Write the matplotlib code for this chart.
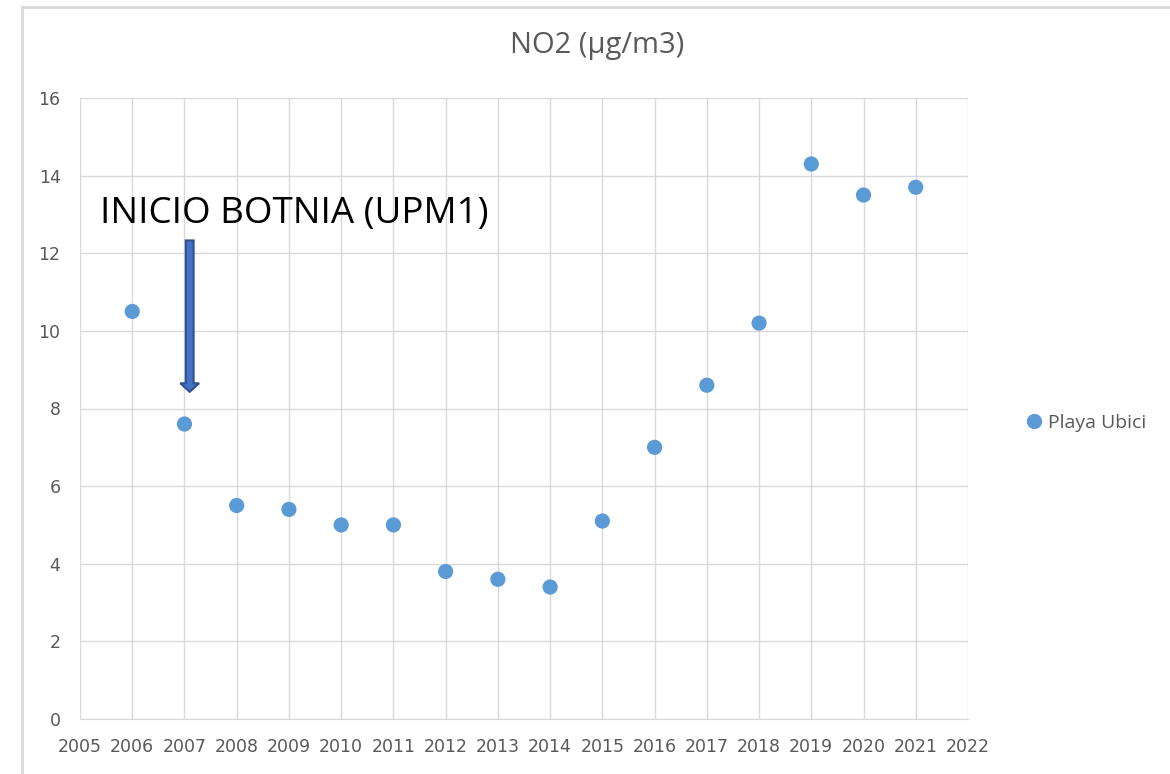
import matplotlib
matplotlib.use("Agg")
import matplotlib.pyplot as plt
from matplotlib.lines import Line2D
from matplotlib.patches import FancyArrow

years = [2006, 2007, 2008, 2009, 2010, 2011, 2012, 2013, 2014, 2015, 2016, 2017, 2018, 2019, 2020, 2021]
no2 = [10.5, 7.6, 5.5, 5.4, 5.0, 5.0, 3.8, 3.6, 3.4, 5.1, 7.0, 8.6, 10.2, 14.3, 13.5, 13.7]
series_name = "Playa Ubici"
title = "NO2 (µg/m3)"
annotation = "INICIO BOTNIA (UPM1)"
x_ticks = list(range(2005, 2023))
y_ticks = list(range(0, 17, 2))

W, H = 1170, 774
fig = plt.figure(figsize=(W / 100, H / 100), dpi=100)
fig.patch.set_facecolor("white")

# outer chart border
fig.add_artist(Line2D([22 / W, 22 / W], [0, 1 - 7 / H], transform=fig.transFigure, color="#d9d9d9", lw=2))
fig.add_artist(Line2D([22 / W, 1], [1 - 7 / H, 1 - 7 / H], transform=fig.transFigure, color="#d9d9d9", lw=2))

ax = fig.add_axes([80 / W, 1 - 719 / H, (968 - 80) / W, (719 - 98) / H])
ax.set_xlim(2005, 2022)
ax.set_ylim(0, 16)
ax.set_xticks(x_ticks)
ax.set_yticks(y_ticks)
ax.grid(True, color="#d9d9d9", lw=1)
ax.set_axisbelow(True)
for s in ["top", "right", "left"]:
    ax.spines[s].set_visible(False)
ax.spines["bottom"].set_color("#d9d9d9")
ax.tick_params(length=0, colors="#595959", labelsize=12.5)
ax.tick_params(axis="x", pad=14)
ax.tick_params(axis="y", pad=14)
tickfont = "Liberation Sans Narrow"
for lab in ax.get_xticklabels() + ax.get_yticklabels():
    lab.set_fontfamily([tickfont, "DejaVu Sans"])

ax.scatter(years, no2, s=120, color="#5b9bd5", zorder=3, label=series_name, edgecolors="none")

fig.text(597 / W, 1 - 46 / H, title, ha="center", va="center", fontsize=21,
         color="#595959", family=["Open Sans", "DejaVu Sans"])

ax.text(2005.38, 13.0, annotation, fontsize=26.5, color="black", ha="left", va="center",
        family=["Open Sans", "DejaVu Sans"])

arrow = FancyArrow(2007.1, 12.33, 0, -3.9, width=0.15, head_width=0.36, head_length=0.22,
                   length_includes_head=True, facecolor="#4472c4", edgecolor="#2f528f", lw=1.5, zorder=4)
ax.add_patch(arrow)

leg = fig.legend(handles=[Line2D([], [], marker="o", ls="none", color="#5b9bd5", markersize=10)],
                 labels=[series_name], loc="center left", bbox_to_anchor=(1005 / W, 1 - 423 / H),
                 frameon=False, handletextpad=0.1, fontsize=14, handlelength=1.2)
for t in leg.get_texts():
    t.set_color("#595959")
    t.set_fontfamily(["Open Sans", "DejaVu Sans"])

fig.savefig("out.png", dpi=100)
